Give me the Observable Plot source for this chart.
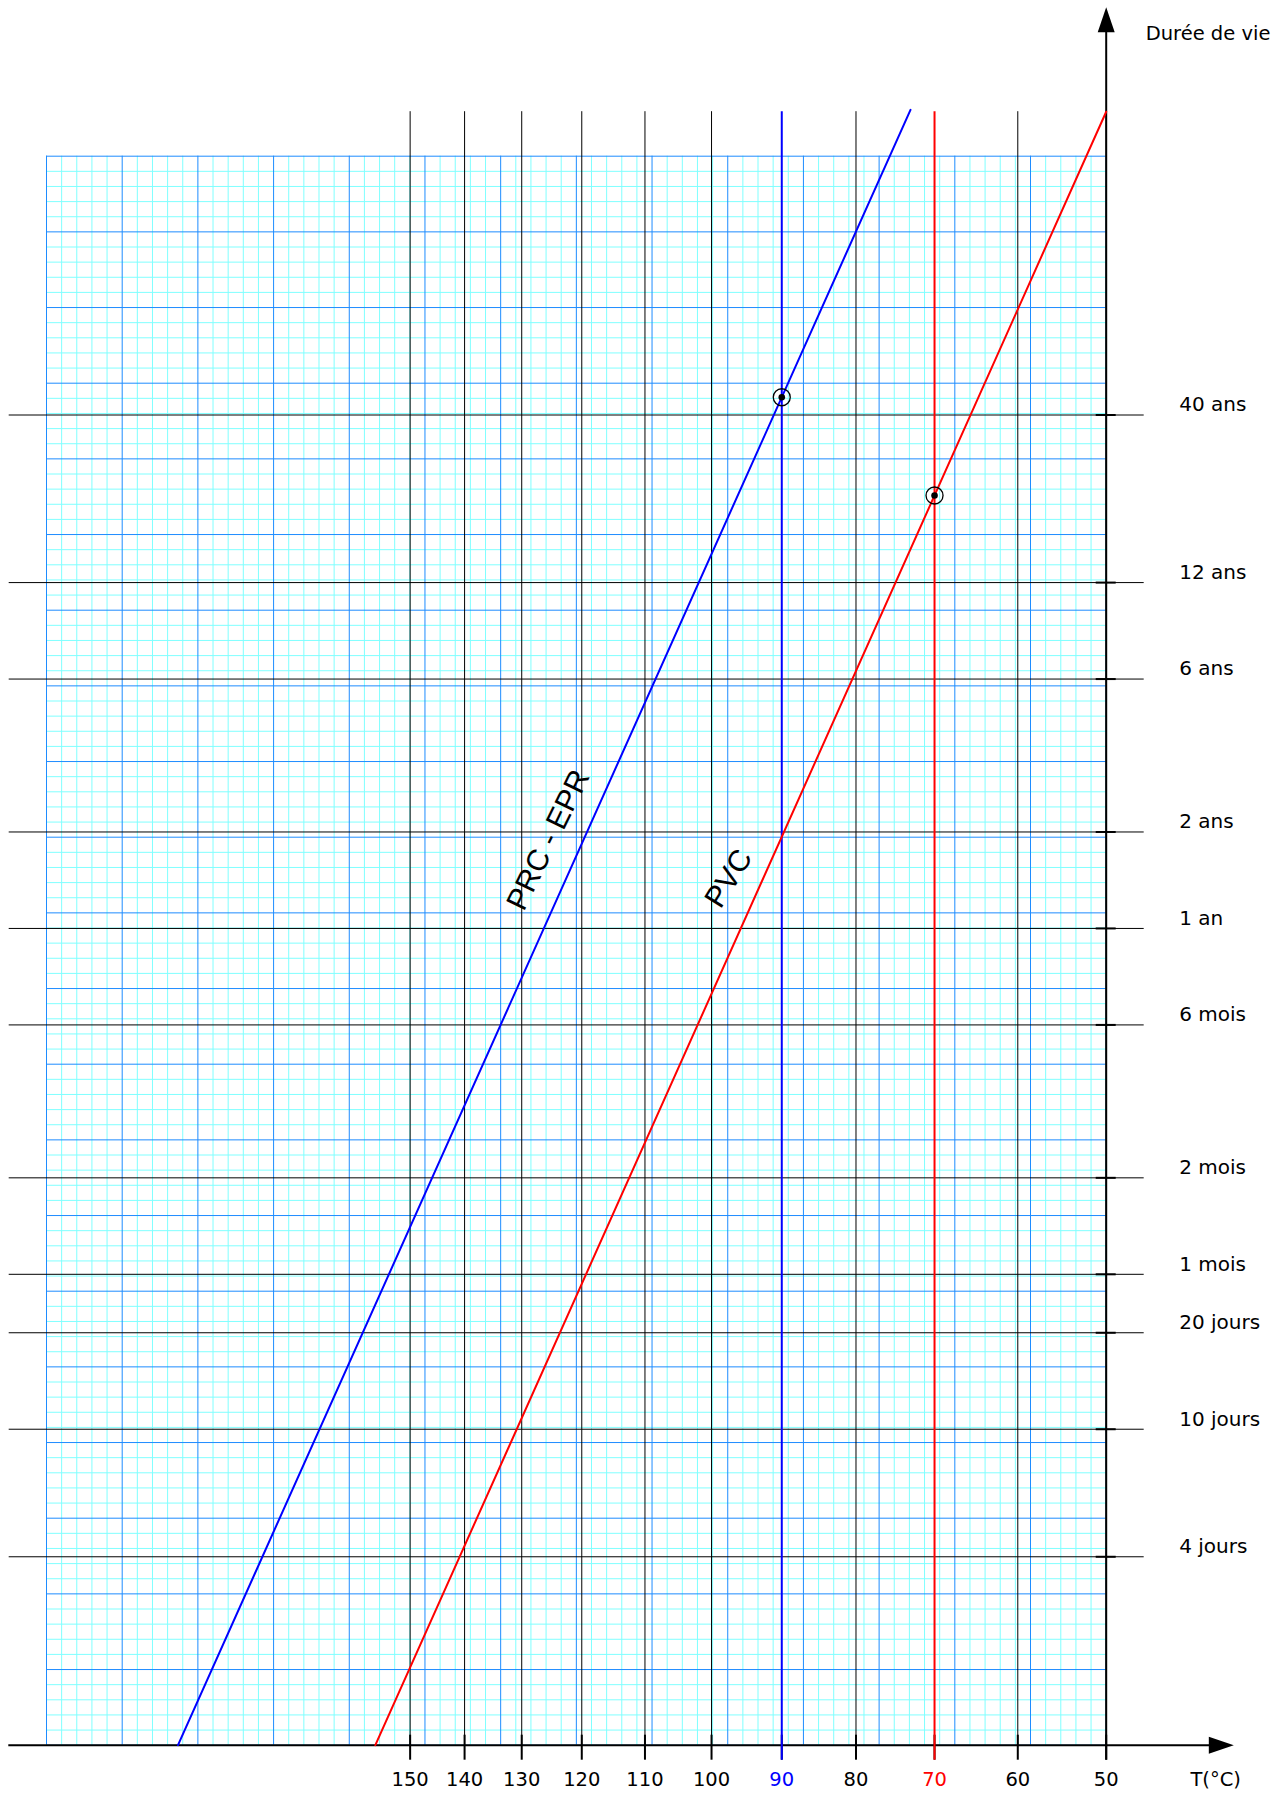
<!DOCTYPE html>
<html>
<head>
<meta charset="utf-8">
<script src="https://cdn.jsdelivr.net/npm/d3@7"></script>
<script src="https://cdn.jsdelivr.net/npm/@observablehq/plot@0.6"></script>
<style>
  html, body { margin: 0; padding: 0; background: #fff; }
</style>
</head>
<body>
<div id="chart"></div>
<script>
// ---------------- DATA ----------------
// Temperature ticks (°C) on the reciprocal-temperature axis
const tempTicks = [150, 140, 130, 120, 110, 100, 90, 80, 70, 60, 50];
// Lifetime ticks: labels and their value in days (log axis)
const lifeLabels = ["40 ans", "12 ans", "6 ans", "2 ans", "1 an", "6 mois", "2 mois", "1 mois", "20 jours", "10 jours", "4 jours"];
const lifeDays   = [14610, 4383, 2191.5, 730.5, 365.25, 182.625, 60.875, 30.4375, 20, 10, 4];
// Materials (Arrhenius lines)
const materials   = ["PRC - EPR", "PVC"];
const lineTemps   = [[198.7, 73.0], [156.65, 50]];       // °C at both ends of each line
const lineLives   = [[1.033, 130900], [1.033, 129100]];   // days at both ends of each line
// Service temperature of each material and lifetime read at the circled point
const refTemps    = [90, 70];
const refLives    = [16600, 8195];
// Where each material name is written (°C, days)
const labelTemps  = [125.5, 97.5];
const labelLives  = [690, 523];
// Extent of the graph paper (°C and days)
const paperTemps  = [231.6, 50];
const paperLives  = [1.033, 93800];

// ---------------- helpers ----------------
const inv = T => 1000 / (T + 273.15);   // reciprocal absolute temperature (1000/K)

const lifeRows  = lifeLabels.map((label, i) => ({label, days: lifeDays[i]}));
const lineRows  = materials.flatMap((m, i) => lineTemps[i].map((T, j) => ({material: m, T, days: lineLives[i][j]})));
const refRows   = materials.map((m, i) => ({material: m, T: refTemps[i], days: refLives[i]}));
const labelRows = materials.map((m, i) => ({material: m, T: labelTemps[i], days: labelLives[i]}));
const plainTemps = tempTicks.filter(T => !refTemps.includes(T));

// graph-paper rulings: 70 x 105 small squares, every 5th one darker
const [u0, u1] = paperTemps.map(inv);
const [l0, l1] = paperLives.map(Math.log10);
const paperX = d3.range(71).map(i => ({i, u: u0 + (u1 - u0) * i / 70}));
const paperY = d3.range(106).map(j => ({j, days: 10 ** (l0 + (l1 - l0) * j / 105)}));

// filled arrowheads (tip at the anchor)
const arrowUp = {draw(ctx) { ctx.moveTo(0, 0); ctx.lineTo(-8.5, 25); ctx.lineTo(8.5, 25); ctx.closePath(); }};
const arrowRight = {draw(ctx) { ctx.moveTo(0, 0); ctx.lineTo(-25, -8.5); ctx.lineTo(-25, 8.5); ctx.closePath(); }};

const minor = "#80ffff", major = "#1e8cff";

const chart = Plot.plot({
  width: 1283,
  height: 1798,
  marginLeft: 46,
  marginRight: 177.3,
  marginTop: 155.7,
  marginBottom: 53.3,
  x: {type: "linear", domain: paperTemps.map(inv), axis: null},
  y: {type: "log", domain: paperLives, axis: null},
  color: {domain: materials, range: ["#0000ff", "#ff0000"]},
  style: {fontFamily: "DejaVu Sans", fontSize: "19px", background: "#fff", color: "#000"},
  marks: [
    // graph paper
    Plot.ruleX(paperX.filter(d => d.i % 5), {x: "u", stroke: minor, strokeWidth: 1}),
    Plot.ruleY(paperY.filter(d => d.j % 5), {y: "days", stroke: minor, strokeWidth: 1}),
    Plot.ruleX(paperX.filter(d => d.i % 5 === 0), {x: "u", stroke: major, strokeWidth: 1}),
    Plot.ruleY(paperY.filter(d => d.j % 5 === 0), {y: "days", stroke: major, strokeWidth: 1}),

    // black guide lines at each temperature and each lifetime
    Plot.ruleX(plainTemps, {x: d => inv(d), stroke: "#000", strokeWidth: 1, insetTop: -44.5}),
    Plot.ruleY(lifeRows, {y: "days", stroke: "#000", strokeWidth: 1, insetLeft: -37.3, insetRight: -38}),

    // axes
    Plot.ruleY([paperLives[0]], {y: d => d, stroke: "#000", strokeWidth: 2, insetLeft: -37.7, insetRight: -105}),
    Plot.ruleX([paperTemps[1]], {x: d => inv(d), stroke: "#000", strokeWidth: 2, insetTop: -126, insetBottom: -15}),
    Plot.dot([0], {x: () => inv(paperTemps[1]), y: () => paperLives[1], symbol: arrowUp, r: 5, fill: "#000", stroke: null, dy: -149}),
    Plot.dot([0], {x: () => inv(paperTemps[1]), y: () => paperLives[0], symbol: arrowRight, r: 5, fill: "#000", stroke: null, dx: 127.6}),
    // axis ticks
    Plot.ruleX(tempTicks, {x: d => inv(d), y1: paperLives[0], y2: paperLives[0], stroke: "#000", strokeWidth: 2, insetTop: -10, insetBottom: -15}),
    Plot.ruleY(lifeRows, {y: "days", x1: () => inv(paperTemps[1]), x2: () => inv(paperTemps[1]), stroke: "#000", strokeWidth: 2, insetLeft: -10, insetRight: -10}),

    // service-temperature verticals
    Plot.ruleX(refRows, {x: d => inv(d.T), stroke: "material", strokeWidth: 2, insetTop: -44.5, insetBottom: -15}),

    // Arrhenius lines
    Plot.line(lineRows, {x: d => inv(d.T), y: "days", z: "material", stroke: "material", strokeWidth: 2}),

    // circled points
    Plot.dot(refRows, {x: d => inv(d.T), y: "days", r: 8.5, stroke: "#000", strokeWidth: 1.3, fill: "none"}),
    Plot.dot(refRows, {x: d => inv(d.T), y: "days", r: 3.3, fill: "#000", stroke: null}),

    // material names
    Plot.text(labelRows.filter(d => d.material === "PRC - EPR"), {x: d => inv(d.T), y: "days", text: "material", rotate: -64, fontSize: 30, fontFamily: "Liberation Sans", fill: "#000", lineAnchor: "middle"}),
    Plot.text(labelRows.filter(d => d.material === "PVC"), {x: d => inv(d.T), y: "days", text: "material", rotate: -58, fontSize: 30, fontFamily: "Liberation Sans", fill: "#000", lineAnchor: "middle"}),

    // tick labels
    Plot.text(plainTemps, {x: d => inv(d), text: d => String(d), frameAnchor: "bottom", lineAnchor: "middle", dy: 34.5, fill: "#000", fontSize: 19.5}),
    Plot.text(refRows, {x: d => inv(d.T), text: d => String(d.T), frameAnchor: "bottom", lineAnchor: "middle", dy: 34.5, fill: "material", fontSize: 19.5}),
    Plot.text(lifeRows, {y: "days", text: "label", frameAnchor: "right", lineAnchor: "middle", dx: 73, dy: -10, textAnchor: "start", fill: "#000", fontSize: 20}),

    // axis titles
    Plot.text(["Durée de vie"], {text: d => d, frameAnchor: "top-right", lineAnchor: "middle", dx: 39.5, dy: -122.7, textAnchor: "start", fill: "#000", fontSize: 19.5}),
    Plot.text(["T(°C)"], {text: d => d, frameAnchor: "bottom-right", lineAnchor: "middle", dx: 109.5, dy: 34.5, textAnchor: "middle", fill: "#000", fontSize: 19.5})
  ]
});
document.getElementById("chart").appendChild(chart);
</script>
</body>
</html>
